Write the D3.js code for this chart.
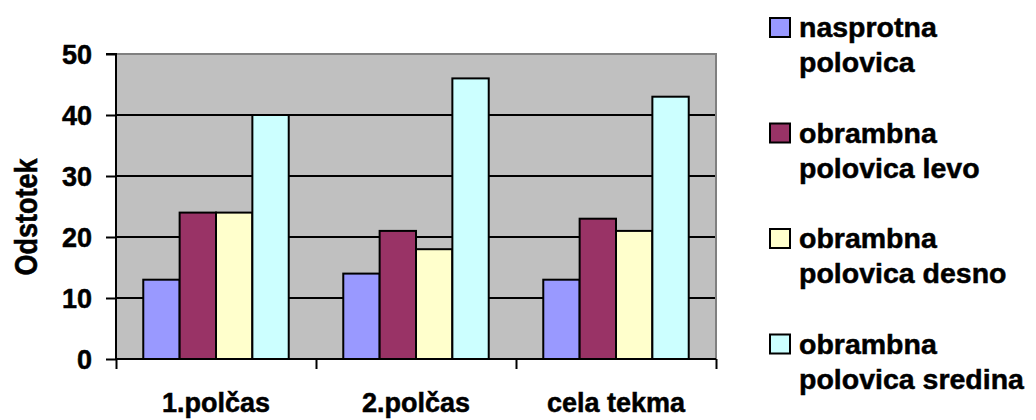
<!DOCTYPE html>
<html><head><meta charset="utf-8">
<script src="https://cdn.jsdelivr.net/npm/d3@7"></script>
<style>
body{margin:0;background:#fff;}
svg text{font-family:"Liberation Sans",Arial,sans-serif;font-weight:bold;fill:#000;stroke:#000;stroke-width:0.5px;}
</style></head>
<body>
<svg id="c" width="1036" height="420"></svg>
<script>
const categories = ["1.polčas", "2.polčas", "cela tekma"];
const seriesNames = [["nasprotna", "polovica"], ["obrambna", "polovica levo"], ["obrambna", "polovica desno"], ["obrambna", "polovica sredina"]];
const nasprotna = [13, 14, 13];
const levo = [24, 21, 23];
const desno = [24, 18, 21];
const sredina = [40, 46, 43];
const yTicks = [0, 10, 20, 30, 40, 50];
const colors = ["#9999FF", "#993366", "#FFFFCC", "#CCFFFF"];
const series = [nasprotna, levo, desno, sredina];

const svg = d3.select("#c");
const L = 116, R = 716, T = 54, B = 359;
const x = d3.scaleBand().domain(categories).range([L, R]).paddingInner(0).paddingOuter(0);
const y = d3.scaleLinear().domain([0, 50]).range([B, T]);

// plot background
svg.append("rect").attr("x", L).attr("y", T).attr("width", R - L).attr("height", B - T).attr("fill", "#C0C0C0");
svg.append("path").attr("d", `M${L},${T}H${R}V${B}`).attr("fill", "none").attr("stroke", "#808080").attr("stroke-width", 2);

// gridlines
svg.append("g").selectAll("line").data(yTicks.filter(t => t > 0 && t < 50)).join("line")
  .attr("x1", L).attr("x2", R - 1).attr("y1", d => y(d)).attr("y2", d => y(d))
  .attr("stroke", "#000").attr("stroke-width", 2);

// bars
const bw = x.bandwidth() / 5.5;
series.forEach((s, si) => {
  svg.append("g").selectAll("rect").data(categories).join("rect")
    .attr("x", (c) => x(c) + bw * 0.75 + si * bw)
    .attr("y", (c, i) => y(s[i]))
    .attr("width", bw)
    .attr("height", (c, i) => B - y(s[i]))
    .attr("fill", colors[si]).attr("stroke", "#000").attr("stroke-width", 2);
});

// y axis
const ya = d3.axisLeft(y).tickValues(yTicks).tickSize(10).tickPadding(14).tickFormat(d3.format("d"));
const yg = svg.append("g").attr("transform", `translate(${L},0)`).call(ya);
yg.select(".domain").attr("stroke", "#000").attr("stroke-width", 2).attr("d", `M-10,${T}H0V${B + 1}`);
yg.selectAll(".tick line").attr("stroke", "#000").attr("stroke-width", 2);
yg.selectAll(".tick text").attr("font-size", 27).attr("font-family", "Liberation Sans, Arial").attr("font-weight", "bold").attr("fill", "#000").attr("dy", "0.36em");

// x axis
const xa = d3.axisBottom(d3.scaleLinear().domain([0, 3]).range([L, R])).tickValues([0, 1, 2, 3]).tickSize(10).tickFormat("");
const xg = svg.append("g").attr("transform", `translate(0,${B})`).call(xa);
xg.select(".domain").attr("stroke", "#000").attr("stroke-width", 2).attr("d", `M${L - 1},0H${R}`);
xg.selectAll(".tick line").attr("stroke", "#000").attr("stroke-width", 2);

svg.append("g").selectAll("text").data(categories).join("text")
  .attr("x", d => x(d) + x.bandwidth() / 2).attr("y", 412)
  .attr("text-anchor", "middle").attr("font-size", 27).text(d => d);

// y title
svg.append("text").attr("transform", "translate(37,217) rotate(-90) scale(1,1.15)")
  .attr("text-anchor", "middle").attr("font-size", 27).text("Odstotek");

// legend
const lg = svg.append("g").selectAll("g").data(seriesNames).join("g")
  .attr("transform", (d, i) => `translate(770,${37 + i * 105.5})`);
lg.append("rect").attr("x", 0).attr("y", -19).attr("width", 20).attr("height", 19)
  .attr("fill", (d, i) => colors[i]).attr("stroke", "#000").attr("stroke-width", 2);
lg.append("text").attr("x", 29).attr("y", 0).attr("font-size", 28.5).text(d => d[0]);
lg.append("text").attr("x", 29).attr("y", 35).attr("font-size", 28.5).text(d => d[1]);
</script>
</body></html>
